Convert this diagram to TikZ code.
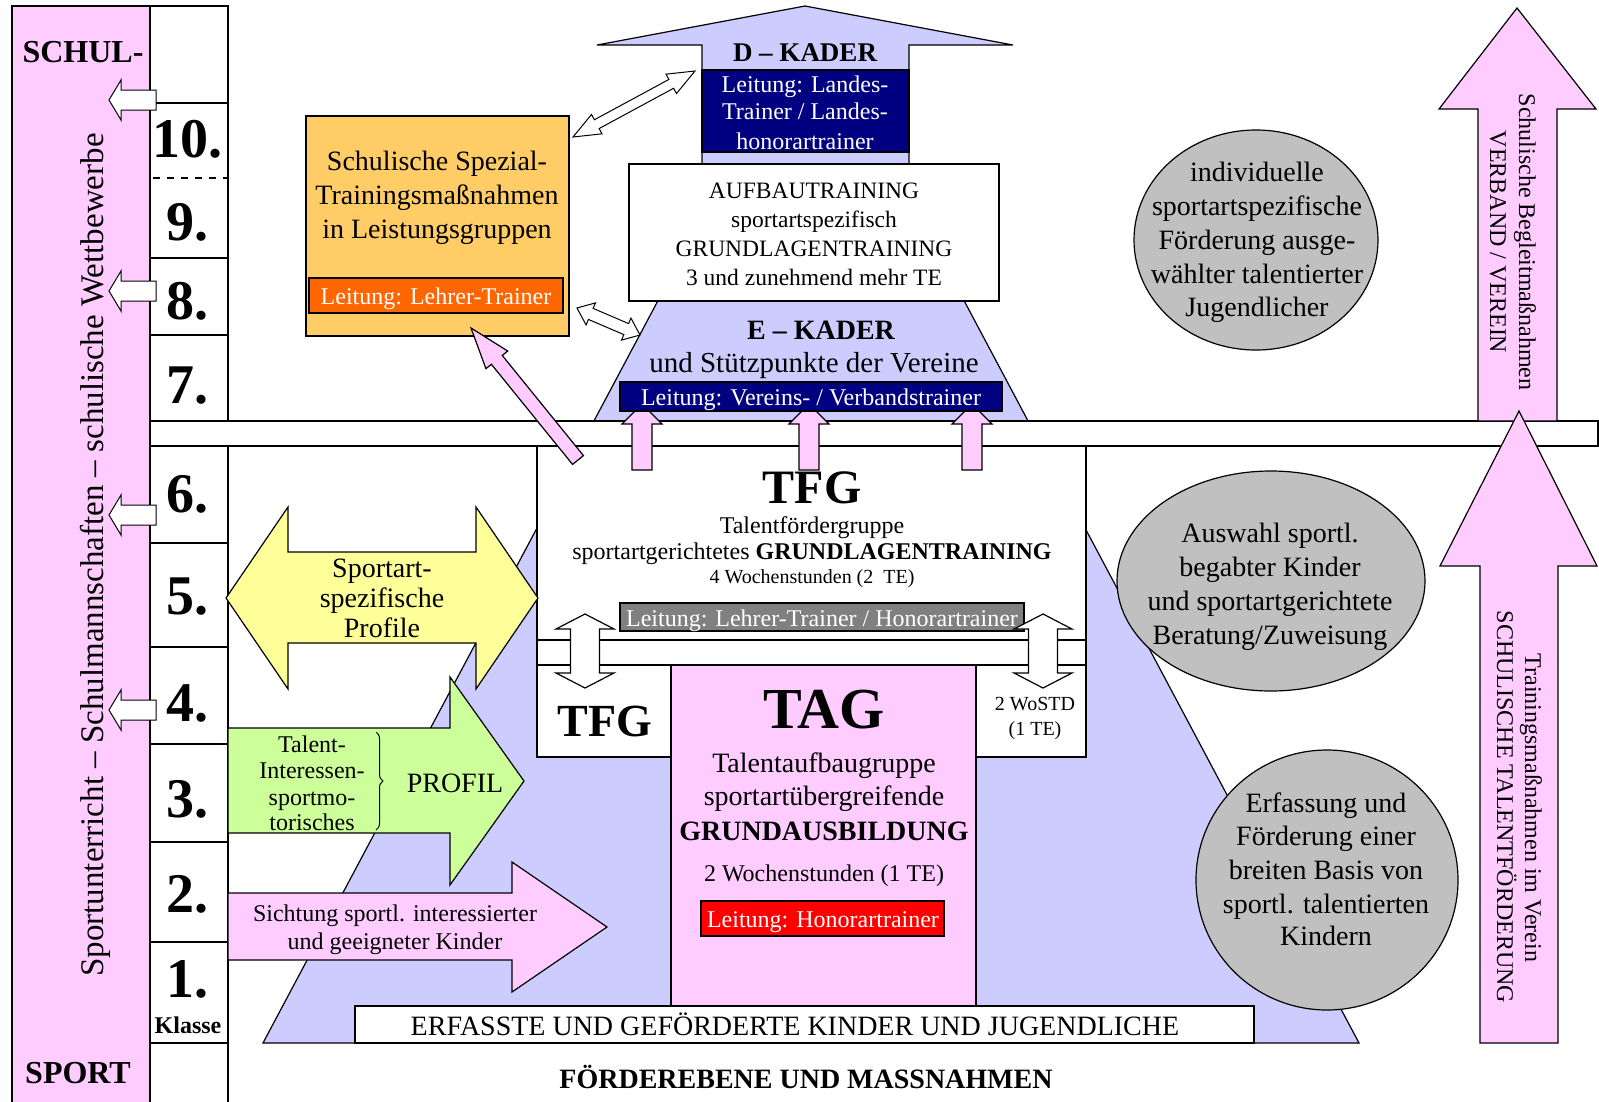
\documentclass[tikz,border=0pt]{standalone}
\usepackage{fontspec}
\setmainfont{Liberation Serif}
\usetikzlibrary{calc,decorations.pathreplacing}
\definecolor{lav}{HTML}{CCCCFF}
\definecolor{pinkf}{HTML}{FFCCFF}
\definecolor{orf}{HTML}{FFCC66}
\definecolor{orb}{HTML}{FF6600}
\definecolor{navyb}{HTML}{000080}
\definecolor{greyb}{HTML}{808080}
\definecolor{redb}{HTML}{FF0000}
\definecolor{yelf}{HTML}{FFFF99}
\definecolor{grnf}{HTML}{CCFF99}
\definecolor{ellf}{HTML}{C0C0C0}
\newcommand\fs[1]{\fontsize{#1}{#1}\selectfont}
% double block arrow between two named coordinates
\newcommand\dblblock[6]{%
  \coordinate (dbA) at (#1); \coordinate (dbB) at (#2);
  \coordinate (dbHA) at ($(dbA)!#5!(dbB)$);
  \coordinate (dbHB) at ($(dbB)!#5!(dbA)$);
  \filldraw[#6] (dbA) -- ($(dbHA)!#4!90:(dbB)$) -- ($(dbHA)!#3!90:(dbB)$)
    -- ($(dbHB)!#3!-90:(dbA)$) -- ($(dbHB)!#4!-90:(dbA)$) -- (dbB)
    -- ($(dbHB)!#4!90:(dbA)$) -- ($(dbHB)!#3!90:(dbA)$)
    -- ($(dbHA)!#3!-90:(dbB)$) -- ($(dbHA)!#4!-90:(dbB)$) -- cycle;}
% single block arrow from tail to tip
\newcommand\sglblock[6]{%
  \coordinate (sbT) at (#1); \coordinate (sbP) at (#2);
  \coordinate (sbH) at ($(sbP)!#5!(sbT)$);
  \filldraw[#6] (sbP) -- ($(sbH)!#4!90:(sbT)$) -- ($(sbH)!#3!90:(sbT)$)
    -- ($(sbT)!#3!-90:(sbP)$) -- ($(sbT)!#3!90:(sbP)$)
    -- ($(sbH)!#3!-90:(sbT)$) -- ($(sbH)!#4!-90:(sbT)$) -- cycle;}
\begin{document}
\begin{tikzpicture}[x=1pt,y=-1pt,
  ol/.style={draw=black,line width=1.2pt},
  t/.style={inner sep=0pt,anchor=base},
  wt/.style={t,text=white},
  num/.style={t,font=\bfseries\fs{56}}]
\useasboundingbox (0,0) rectangle (1599,1101);
\fill[white] (0,0) rectangle (1599,1101);

% big lavender triangle (background)
\filldraw[ol,fill=lav] (263,1043) -- (1359,1043) -- (811,13) -- cycle;

% left columns
\filldraw[ol,fill=pinkf] (12,6) rectangle (150,1108);
\filldraw[ol,fill=white] (150,6) rectangle (228,1108);
\foreach \yy in {103,258,335,543,647,744,842,942,1043}
  \draw[ol] (150,\yy) -- (228,\yy);
\draw[ol,dash pattern=on 7pt off 7pt] (153,178) -- (228,178);

% horizontal band
\filldraw[ol,fill=white] (150,421) rectangle (1598,446);

% D-Kader arrow and boxes
\filldraw[ol,fill=lav] (702,170) -- (702,45) -- (597,45) -- (805,6) -- (1013,45) -- (909,45) -- (909,170) -- cycle;
\filldraw[ol,fill=navyb] (702,70) rectangle (909,152);
\filldraw[ol,fill=white] (629,164) rectangle (999,301);

% TFG box
\filldraw[ol,fill=white] (537,446) rectangle (1086,757);
\foreach \cx in {642,809,972}
  \filldraw[ol,fill=pinkf] (\cx-10,470) -- (\cx-10,424) -- (\cx-20,424) -- (\cx,404)
    -- (\cx+20,424) -- (\cx+10,424) -- (\cx+10,470) -- cycle;
\filldraw[ol,fill=navyb] (620,382) rectangle (1002,411);
\filldraw[ol,fill=greyb] (620,603) rectangle (1024,631);
\filldraw[ol,fill=white] (537,640) rectangle (1086,665);
\filldraw[ol,fill=pinkf] (671,665) rectangle (976,1006);
\filldraw[ol,fill=white] (355,1006) rectangle (1254,1043);
\filldraw[ol,fill=redb] (701,901) rectangle (944,936);
\foreach \cx in {585,1043}
  \filldraw[ol,fill=white] (\cx,614) -- (\cx+29,629) -- (\cx+14.5,629) -- (\cx+14.5,673)
    -- (\cx+29,673) -- (\cx,688) -- (\cx-29,673) -- (\cx-14.5,673) -- (\cx-14.5,629)
    -- (\cx-29,629) -- cycle;

% orange box
\filldraw[ol,fill=orf] (306,116) rectangle (569,336);
\filldraw[ol,fill=orb] (309,278) rectangle (563,313);

% connectors between orange box and kader
\coordinate (wa1) at (573,137);
\coordinate (wb1) at (695,71);
\coordinate (wa2) at (577,308);
\coordinate (wb2) at (640,335);
\dblblock{wa1}{wb1}{5pt}{11pt}{27pt}{ol,line width=1pt,fill=white}
\dblblock{wa2}{wb2}{6pt}{12pt}{15pt}{ol,line width=1pt,fill=white}
\coordinate (pt1) at (578,460);
\coordinate (pp1) at (471,328);
\sglblock{pt1}{pp1}{7pt}{14pt}{41pt}{ol,fill=pinkf}

% left arrows
\filldraw[ol,fill=yelf] (226,598) -- (288,507) -- (288,552) -- (476,552) -- (476,507) -- (538,598)
  -- (476,689) -- (476,643) -- (288,643) -- (288,689) -- cycle;
\filldraw[ol,fill=grnf] (228,728) -- (450,728) -- (450,677) -- (524,781) -- (450,885) -- (450,833) -- (228,833) -- cycle;
\filldraw[ol,fill=pinkf] (228,893) -- (512,893) -- (512,862) -- (607,927) -- (512,992) -- (512,960) -- (228,960) -- cycle;
\draw[decorate,decoration={brace,amplitude=7pt},line width=1pt] (376,732) -- (376,830);

% ellipses
\filldraw[ol,fill=ellf] (1256,240) ellipse [x radius=122pt,y radius=110pt];
\filldraw[ol,fill=ellf] (1271,581) ellipse [x radius=154pt,y radius=110pt];
\filldraw[ol,fill=ellf] (1327,880) ellipse [x radius=131pt,y radius=130pt];

% right arrows
\filldraw[ol,fill=pinkf] (1478,421) -- (1478,109) -- (1439,109) -- (1517,8) -- (1596,109) -- (1557,109) -- (1557,421) -- cycle;
\filldraw[ol,fill=pinkf] (1480,1043) -- (1480,566) -- (1440,566) -- (1519,411) -- (1597,566) -- (1558,566) -- (1558,1043) -- cycle;

% small arrows into the pink column
\foreach \yy in {100,291,515,710}
  \filldraw[ol,line width=1pt,fill=white] (109,\yy) -- (121,\yy-20) -- (121,\yy-10) -- (156,\yy-10)
    -- (156,\yy+10) -- (121,\yy+10) -- (121,\yy+20) -- cycle;

% ---------- texts ----------
\node[t,font=\bfseries\fs{32}] (schul) at (83,62) {SCHUL-};
\node[t,font=\bfseries\fs{32}] (sport) at (78,1083) {SPORT};
\node[t,rotate=90,font=\fs{33}] (side) at (103,555) {Sportunterricht – Schulmannschaften – schulische Wettbewerbe};
\node[num] (k10) at (187,157) {10.};
\node[num] (k9) at (187,240) {9.};
\node[num] (k8) at (187,319) {8.};
\node[num] (k7) at (187,403) {7.};
\node[num] (k6) at (187,512) {6.};
\node[num] (k5) at (187,614) {5.};
\node[num] (k4) at (187,721) {4.};
\node[num] (k3) at (187,817) {3.};
\node[num] (k2) at (187,912) {2.};
\node[num] (k1) at (187,997) {1.};
\node[t,font=\bfseries\fs{24}] (klasse) at (188,1033) {Klasse};

\node[t,font=\bfseries\fs{27}] (dk) at (805,61) {D – KADER};
\node[wt,font=\fs{24}] (dl1) at (805,92) {Leitung: Landes-};
\node[wt,font=\fs{24}] (dl2) at (805,119) {Trainer / Landes-};
\node[wt,font=\fs{24}] (dl3) at (805,149) {honorartrainer};

\node[t,font=\fs{23.5}] (au1) at (814,198) {AUFBAUTRAINING};
\node[t,font=\fs{23.5}] (au2) at (814,227) {sportartspezifisch};
\node[t,font=\fs{23.5}] (au3) at (814,256) {GRUNDLAGENTRAINING};
\node[t,font=\fs{23.5}] (au4) at (814,285) {3 und zunehmend mehr TE};

\node[t,font=\bfseries\fs{28}] (ek) at (821,339) {E – KADER};
\node[t,font=\fs{29}] (ek2) at (814,372) {und Stützpunkte der Vereine};
\node[wt,font=\fs{24}] (el) at (811,405) {Leitung: Vereins- / Verbandstrainer};

\node[t,font=\fs{28}] (or1) at (437,170) {Schulische Spezial-};
\node[t,font=\fs{28}] (or2) at (437,204) {Trainingsmaßnahmen};
\node[t,font=\fs{28}] (or3) at (437,238) {in Leistungsgruppen};
\node[wt,font=\fs{24}] (orl) at (436,304) {Leitung: Lehrer-Trainer};

\node[t,font=\bfseries\fs{48}] (tfg) at (812,503) {TFG};
\node[t,font=\fs{24}] (tf1) at (812,533) {Talentfördergruppe};
\node[t,font=\fs{24}] (tf2) at (812,559) {sportartgerichtetes \textbf{GRUNDLAGENTRAINING}};
\node[t,font=\fs{20}] (tf3) at (812,583) {4 Wochenstunden (2\ \ TE)};
\node[wt,font=\fs{24}] (tfl) at (822,626) {Leitung: Lehrer-Trainer / Honorartrainer};
\node[t,font=\bfseries\fs{46}] (tfg2) at (605,736) {TFG};
\node[t,font=\fs{20}] (wo1) at (1035,710) {2 WoSTD};
\node[t,font=\fs{20}] (wo2) at (1035,735) {(1 TE)};

\node[t,font=\bfseries\fs{58}] (tag) at (824,728) {TAG};
\node[t,font=\fs{28}] (ta1) at (824,772) {Talentaufbaugruppe};
\node[t,font=\fs{28}] (ta2) at (824,805) {sportartübergreifende};
\node[t,font=\bfseries\fs{28}] (ta3) at (824,840) {GRUNDAUSBILDUNG};
\node[t,font=\fs{24}] (ta4) at (824,881) {2 Wochenstunden (1 TE)};
\node[wt,font=\fs{24}] (tal) at (823,927) {Leitung: Honorartrainer};

\node[t,font=\fs{28}] (erf) at (795,1035) {ERFASSTE UND GEFÖRDERTE KINDER UND JUGENDLICHE};
\node[t,font=\bfseries\fs{28}] (foe) at (806,1088) {FÖRDEREBENE UND MASSNAHMEN};

\node[t,font=\fs{28}] (y1) at (382,577) {Sportart-};
\node[t,font=\fs{28}] (y2) at (382,607) {spezifische};
\node[t,font=\fs{28}] (y3) at (382,637) {Profile};

\node[t,font=\fs{24}] (g1) at (312,752) {Talent-};
\node[t,font=\fs{24}] (g2) at (312,778) {Interessen-};
\node[t,font=\fs{24}] (g3) at (312,805) {sportmo-};
\node[t,font=\fs{24}] (g4) at (312,830) {torisches};
\node[t,font=\fs{28}] (prof) at (455,792) {PROFIL};

\node[t,font=\fs{24}] (s1) at (395,921) {Sichtung sportl. interessierter};
\node[t,font=\fs{24}] (s2) at (395,949) {und geeigneter Kinder};

\node[t,font=\fs{28}] (e11) at (1257,181) {individuelle};
\node[t,font=\fs{28}] (e12) at (1257,215) {sportartspezifische};
\node[t,font=\fs{28}] (e13) at (1257,249) {Förderung ausge-};
\node[t,font=\fs{28}] (e14) at (1257,283) {wählter talentierter};
\node[t,font=\fs{28}] (e15) at (1257,316) {Jugendlicher};

\node[t,font=\fs{28}] (e21) at (1270,542) {Auswahl sportl.};
\node[t,font=\fs{28}] (e22) at (1270,576) {begabter Kinder};
\node[t,font=\fs{28}] (e23) at (1270,610) {und sportartgerichtete};
\node[t,font=\fs{28}] (e24) at (1270,644) {Beratung/Zuweisung};

\node[t,font=\fs{28}] (e31) at (1326,812) {Erfassung und};
\node[t,font=\fs{28}] (e32) at (1326,845) {Förderung einer};
\node[t,font=\fs{28}] (e33) at (1326,879) {breiten Basis von};
\node[t,font=\fs{28}] (e34) at (1326,913) {sportl. talentierten};
\node[t,font=\fs{28}] (e35) at (1326,945) {Kindern};

\node[t,rotate=-90,font=\fs{24}] (r1) at (1519,242) {Schulische Begleitmaßnahmen};
\node[t,rotate=-90,font=\fs{24}] (r2) at (1490,242) {VERBAND / VEREIN};
\node[t,rotate=-90,font=\fs{24}] (r3) at (1525,808) {Trainingsmaßnahmen im Verein};
\node[t,rotate=-90,font=\fs{24}] (r4) at (1497,807) {SCHULISCHE TALENTFÖRDERUNG};
\end{tikzpicture}
\end{document}
